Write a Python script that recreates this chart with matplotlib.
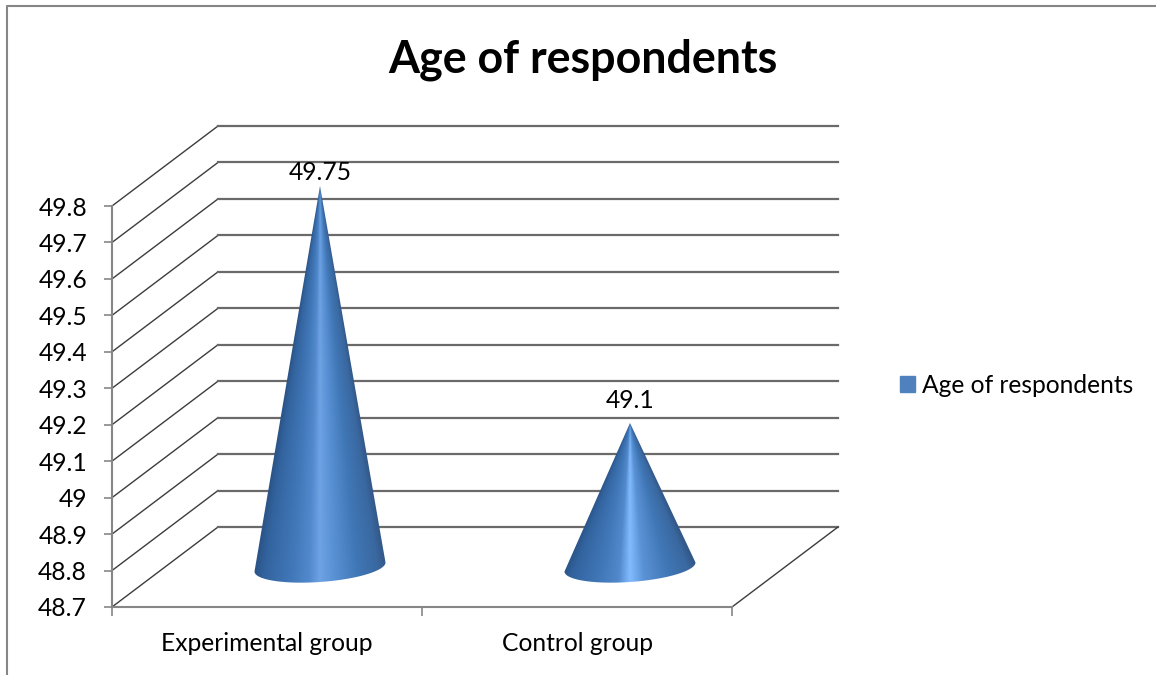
import numpy as np
import matplotlib
matplotlib.use('Agg')
import matplotlib.pyplot as plt
from matplotlib.colors import LinearSegmentedColormap
from matplotlib.lines import Line2D
from matplotlib.patches import Patch, Polygon

categories = ['Experimental group', 'Control group']
values = [49.75, 49.1]
value_labels = ['49.75', '49.1']
y_ticks = [48.7, 48.8, 48.9, 49.0, 49.1, 49.2, 49.3, 49.4, 49.5, 49.6, 49.7, 49.8]
y_labels = ['48.7', '48.8', '48.9', '49', '49.1', '49.2', '49.3', '49.4', '49.5', '49.6', '49.7', '49.8']
series_name = 'Age of respondents'

W, H = 1156, 675
plt.rcParams['font.family'] = ['Lato', 'DejaVu Sans']

fig = plt.figure(figsize=(W / 100, H / 100), dpi=100)
ax = fig.add_axes([112 / W, (H - 607) / H, 620 / W, 401 / H])
ax.set_xlim(0, len(categories))
ax.set_ylim(y_ticks[0], y_ticks[-1])

# depth of the fake 3D box, in data units
depth_x = 106 / 310
depth_y = 80 / 401 * (y_ticks[-1] - y_ticks[0])

# outer chart border
fig.add_artist(Line2D([7 / W, 7 / W, 1], [0, 1 - 6 / H, 1 - 6 / H], color='#868686', lw=1.5))

# walls: diagonal on the side, horizontal on the back
for v in y_ticks:
    ax.plot([0, depth_x], [v, v + depth_y], color='#3c3c3c', lw=1.0, clip_on=False, zorder=1)
    ax.plot([depth_x, 2 + depth_x], [v + depth_y] * 2, color='#6a6a6a', lw=1.6, clip_on=False, zorder=1)
ax.plot([2, 2 + depth_x], [y_ticks[0], y_ticks[0] + depth_y], color='#3c3c3c', lw=1.0, clip_on=False, zorder=1)

# horizontal shading across a cone, -1 at left edge and 1 at right edge
edge_left = '#2a5284'
edge_right = '#33598a'
highlights = ['#6ea3e4', '#82bcff']
label_offsets = [10, 16.5]
half_w = 65.5 / 310
half_h = 15 * (y_ticks[-1] - y_ticks[0]) / 401
shear = 4.5 * (y_ticks[-1] - y_ticks[0]) / 401

for i, val in enumerate(values):
    cx = i + 0.5 + depth_x / 2
    base = y_ticks[0] + depth_y / 2
    apex = val + depth_y / 2 - 0.005

    t = np.linspace(0, -np.pi, 60)
    arc_x = cx + half_w * np.cos(t)
    arc_y = base + shear * np.cos(t) + half_h * np.sin(t)
    outline = np.column_stack([np.r_[cx, arc_x], np.r_[apex, arc_y]])

    cmap = LinearSegmentedColormap.from_list('cone', [
        (0.0, edge_left), (0.08, '#32639e'), (0.3, '#4279ba'), (0.42, '#5289cc'),
        (0.5, highlights[i]), (0.6, '#5a92d6'), (0.78, '#4077b6'), (0.94, '#3a68a0'), (1.0, edge_right)])

    xs = np.linspace(cx - half_w - 0.01, cx + half_w + 0.01, 300)
    ys = np.linspace(base - half_h - 0.03, apex, 500)
    xx, yy = np.meshgrid(xs, ys)
    widths = np.maximum(half_w * (apex - yy) / (apex - base), 1e-4)
    u = np.clip((xx - cx) / widths, -1, 1)
    img = ax.imshow((u + 1) / 2, cmap=cmap, vmin=0, vmax=1, origin='lower', aspect='auto',
                    extent=[xs[0], xs[-1], ys[0], ys[-1]], zorder=3, interpolation='bilinear')
    poly = Polygon(outline, closed=True, transform=ax.transData, fc='none', ec='none')
    ax.add_patch(poly)
    # the tip pokes out above the axes box, so clip to the cone shape only
    img.set_clip_box(fig.bbox)
    img.set_clip_path(poly)

    ax.annotate(value_labels[i], (cx, apex), xytext=(0, label_offsets[i]), textcoords='offset points',
                ha='center', va='center', fontsize=17.7, color='black', zorder=5, annotation_clip=False)

ax.set_xlim(0, len(categories))
ax.set_ylim(y_ticks[0], y_ticks[-1])

# axis lines and ticks
for s in ['top', 'right']:
    ax.spines[s].set_visible(False)
for s in ['left', 'bottom']:
    ax.spines[s].set_color('#868686')
    ax.spines[s].set_linewidth(1.5)
ax.patch.set_alpha(0)

ax.set_yticks(y_ticks)
ax.set_yticklabels(y_labels)
ax.tick_params(axis='y', length=6, width=1.2, color='#868686', labelsize=17.7, pad=12)
ax.set_xticks([0, 1, 2])
ax.set_xticklabels([])
ax.tick_params(axis='x', which='major', length=6.5, width=1.2, color='#868686')
ax.set_xticks([0.5, 1.5], minor=True)
ax.set_xticklabels(categories, minor=True)
ax.tick_params(axis='x', which='minor', length=0, labelsize=17.7, pad=18)

fig.text(583 / W, 1 - 60 / H, 'Age of respondents', ha='center', va='center',
         fontsize=32.2, fontweight='bold', color='black')

leg = ax.legend(handles=[Patch(color='#4f81bd', label=series_name)], loc='center left',
                bbox_to_anchor=(900 / W, 1 - 385 / H), bbox_transform=fig.transFigure,
                frameon=False, fontsize=17.7, handlelength=0.61, handleheight=0.61,
                handletextpad=0.28, borderpad=0, borderaxespad=0)

fig.savefig('out.png', dpi=100, facecolor='white')
